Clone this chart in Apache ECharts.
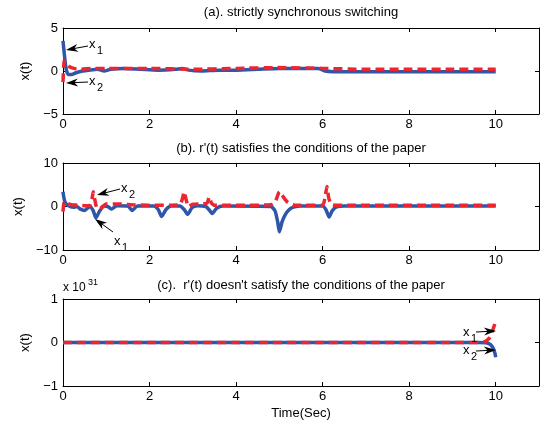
<!DOCTYPE html>
<html>
<head>
<meta charset="utf-8">
<script src="https://cdn.jsdelivr.net/npm/echarts@6/dist/echarts.min.js"></script>
<style>
  html, body { margin: 0; padding: 0; background: #fff; }
  #chart { width: 545px; height: 429px; }
</style>
</head>
<body>
<div id="chart"></div>
<script>
// (a) strictly synchronous switching
const tA1 = [0, 0.03, 0.07, 0.12, 0.2, 0.3, 0.45, 0.6, 0.8, 0.95, 1.1, 1.4, 1.8, 2.2, 2.6, 2.75, 2.9, 3.2, 3.6, 4.0, 4.5, 5.0, 5.5, 5.9, 6.05, 6.5, 7, 8, 9, 10];
const x1A = [3.5, 2.0, 0.3, -0.4, -0.4, -0.2, 0.0, 0.1, 0.2, 0.0, 0.2, 0.3, 0.2, 0.1, 0.2, 0.3, 0.1, 0.0, 0.1, 0.1, 0.2, 0.3, 0.3, 0.3, 0.0, -0.1, -0.1, -0.1, -0.1, -0.1];
const tA2 = [0, 0.03, 0.08, 0.15, 0.25, 0.4, 0.7, 1.0, 1.5, 2.0, 3.0, 4.0, 5.0, 6.0, 7, 8, 9, 10];
const x2A = [-1.3, 1.2, 0.9, 0.5, 0.3, 0.2, 0.3, 0.3, 0.3, 0.3, 0.2, 0.3, 0.4, 0.3, 0.2, 0.2, 0.2, 0.2];

// (b) r'(t) satisfies the conditions
const tB1 = [0, 0.04, 0.12, 0.25, 0.32, 0.4, 0.5, 0.62, 0.7, 0.76, 0.85, 0.95, 1.05, 1.12, 1.25, 1.5, 1.6, 1.72, 2.1, 2.2, 2.28, 2.38, 2.5, 2.7, 2.8, 2.88, 2.98, 3.1, 3.3, 3.38, 3.45, 3.55, 3.7, 4.8, 4.9, 4.96, 5.0, 5.06, 5.14, 5.24, 5.35, 5.5, 6.0, 6.08, 6.15, 6.22, 6.32, 6.5, 10];
const x1B = [3.4, 1.2, 0.2, -0.2, 0.0, -0.6, -0.9, 0.0, -1.0, -2.6, -1.0, 0.1, -0.1, -0.6, 0.2, 0.1, -0.9, 0.1, 0.1, -0.7, -2.3, -0.7, 0.1, 0.1, -0.7, -1.8, -0.3, 0.2, 0.0, -0.8, -1.6, -0.4, 0.1, 0.0, -1.0, -3.5, -5.8, -3.6, -1.8, -0.6, -0.1, 0.1, 0.1, -0.8, -2.4, -1.0, -0.1, 0.1, 0.1];
const tB2 = [0, 0.03, 0.1, 0.2, 0.35, 0.5, 0.62, 0.67, 0.7, 0.73, 0.78, 0.85, 1.0, 1.3, 1.6, 2.0, 2.5, 2.7, 2.76, 2.8, 2.84, 2.9, 3.0, 3.2, 3.33, 3.38, 3.43, 3.5, 3.7, 4.2, 4.8, 4.9, 4.96, 5.0, 5.05, 5.12, 5.2, 5.35, 5.6, 6.0, 6.05, 6.1, 6.14, 6.2, 6.3, 6.6, 10];
const x2B = [-1.2, 1.0, 0.7, 0.4, 0.3, 0.2, 0.3, 1.8, 3.4, 1.8, -0.3, -0.5, 0.6, 0.6, 0.4, 0.3, 0.3, 0.4, 1.8, 3.4, 1.8, 0.0, 0.5, 0.6, 0.8, 2.2, 0.8, 0.3, 0.3, 0.3, 0.4, 1.0, 2.5, 3.4, 2.8, 1.8, 0.9, 0.3, 0.3, 0.3, 1.8, 4.6, 2.0, 0.5, 0.3, 0.3, 0.3];

// (c) r'(t) doesn't satisfy the conditions (values in units of 1e31)
const tC1 = [0, 2, 4, 6, 8, 9.6, 9.8, 9.88, 9.94, 9.98, 10];
const x1C = [0, 0, 0, 0, 0, 0, -0.01, -0.05, -0.13, -0.24, -0.34];
const tC2 = [0, 2, 4, 6, 8, 9.6, 9.75, 9.85, 9.92, 9.97, 10];
const x2C = [0, 0, 0, 0, 0, 0, 0.02, 0.1, 0.25, 0.4, 0.5];

const titles = [
  "(a). strictly synchronous switching",
  "(b). r'(t) satisfies the conditions of the paper",
  "(c).  r'(t) doesn't satisfy the conditions of the paper"
];
const yRanges = [[-5, 5, 5], [-10, 10, 10], [-1, 1, 1]];

const BLUE = "#2f56a8";
const RED = "#ec2630";
const FONT = "Liberation Sans, Arial, sans-serif";

const grids = [
  { left: 63, right: 6, top: 28, height: 86 },
  { left: 63, right: 6, top: 163, height: 87 },
  { left: 63, right: 6, top: 299, height: 87 }
];

const xAxes = [];
const yAxes = [];
grids.forEach((g, i) => {
  const base = {
    gridIndex: i, type: "value", min: 0, max: 11, interval: 2,
    axisLine: { onZero: false, lineStyle: { color: "#000", width: 1 } },
    axisTick: { inside: true, length: 4, lineStyle: { color: "#000" } },
    splitLine: { show: false }
  };
  xAxes.push(Object.assign({}, base, {
    position: "bottom",
    axisLabel: { color: "#000", fontSize: 13, fontFamily: FONT, margin: 4, showMaxLabel: false,
      formatter: v => (v > 10 ? "" : String(v)) },
    name: i === 2 ? "Time(Sec)" : "",
    nameLocation: "middle", nameGap: 21,
    nameTextStyle: { color: "#000", fontSize: 13, fontFamily: FONT }
  }));
  xAxes.push(Object.assign({}, base, { position: "top", axisLabel: { show: false } }));

  const r = yRanges[i];
  const ybase = {
    gridIndex: i, type: "value", min: r[0], max: r[1], interval: r[2],
    axisLine: { onZero: false, lineStyle: { color: "#000", width: 1 } },
    axisTick: { inside: true, length: 4, lineStyle: { color: "#000" } },
    splitLine: { show: false }
  };
  yAxes.push(Object.assign({}, ybase, {
    position: "left",
    axisLabel: { color: "#000", fontSize: 13, fontFamily: FONT, margin: 5,
      formatter: v => String(v).replace("-", "\u2212") },
    name: "x(t)", nameLocation: "middle", nameGap: 24, nameRotate: 90,
    nameTextStyle: { color: "#000", fontSize: 13, fontFamily: FONT }
  }));
  yAxes.push(Object.assign({}, ybase, { position: "right", axisLabel: { show: false } }));
});

function pairs(t, v) {
  return t.map((x, i) => [x, v[i]]);
}

function lineSeries(idx, t, v, color, dashed) {
  return {
    type: "line", xAxisIndex: idx * 2, yAxisIndex: idx * 2,
    data: pairs(t, v), showSymbol: false, smooth: 0.2,
    lineStyle: { color: color, width: 3.5, type: dashed ? [9, 5] : "solid" },
    z: dashed ? 3 : 2
  };
}

const series = [
  lineSeries(0, tA1, x1A, BLUE, false),
  lineSeries(0, tA2, x2A, RED, true),
  lineSeries(1, tB1, x1B, BLUE, false),
  lineSeries(1, tB2, x2B, RED, true),
  lineSeries(2, tC1, x1C, BLUE, false),
  lineSeries(2, tC2, x2C, RED, true)
];

// arrow annotation: tail (x0,y0) -> tip (x1,y1)
function arrow(x0, y0, x1, y1) {
  const a = Math.atan2(y1 - y0, x1 - x0);
  const dx = Math.cos(a), dy = Math.sin(a);
  const px = -dy, py = dx;
  const L = 12, W = 4;
  return [
    { type: "line", shape: { x1: x0, y1: y0, x2: x1 - dx * 7, y2: y1 - dy * 7 },
      style: { stroke: "#000", lineWidth: 1 }, z: 10 },
    { type: "polygon", shape: { points: [
        [x1, y1],
        [x1 - dx * L + px * W, y1 - dy * L + py * W],
        [x1 - dx * L * 0.7, y1 - dy * L * 0.7],
        [x1 - dx * L - px * W, y1 - dy * L - py * W]
      ] }, style: { fill: "#000" }, z: 10 }
  ];
}

function label(x, y, sub) {
  return [
    { type: "text", x: x, y: y, style: { text: "x", fill: "#000", font: "13px " + FONT,
      textVerticalAlign: "middle" }, z: 10 },
    { type: "text", x: x + 8, y: y + 7, style: { text: sub, fill: "#000", font: "11px " + FONT,
      textVerticalAlign: "middle" }, z: 10 }
  ];
}

const graphics = [].concat(
  arrow(88, 46, 66, 50), label(89, 44, "1"),
  arrow(88, 82, 66, 83), label(89, 81, "2"),
  arrow(120, 189, 97, 195), label(121, 188, "2"),
  arrow(113, 232, 95, 219), label(114, 241, "1"),
  arrow(476, 332, 496, 331), label(463, 332, "1"),
  arrow(476, 351, 496, 350), label(463, 350, "2"),
  [
    { type: "text", x: 301, y: 12, style: { text: titles[0], fill: "#000", font: "13px " + FONT,
      textAlign: "center", textVerticalAlign: "middle" } },
    { type: "text", x: 301, y: 148, style: { text: titles[1], fill: "#000", font: "13px " + FONT,
      textAlign: "center", textVerticalAlign: "middle" } },
    { type: "text", x: 301, y: 285, style: { text: titles[2], fill: "#000", font: "13px " + FONT,
      textAlign: "center", textVerticalAlign: "middle" } },
    { type: "text", x: 63, y: 288, style: { text: "x 10", fill: "#000", font: "12px " + FONT,
      textVerticalAlign: "middle" } },
    { type: "text", x: 88, y: 283, style: { text: "31", fill: "#000", font: "9px " + FONT,
      textVerticalAlign: "middle" } }
  ]
);

const chart = echarts.init(document.getElementById("chart"), null, { renderer: "canvas" });
chart.setOption({
  animation: false,
  backgroundColor: "#fff",
  grid: grids,
  xAxis: xAxes,
  yAxis: yAxes,
  series: series,
  graphic: graphics
});
</script>
</body>
</html>
